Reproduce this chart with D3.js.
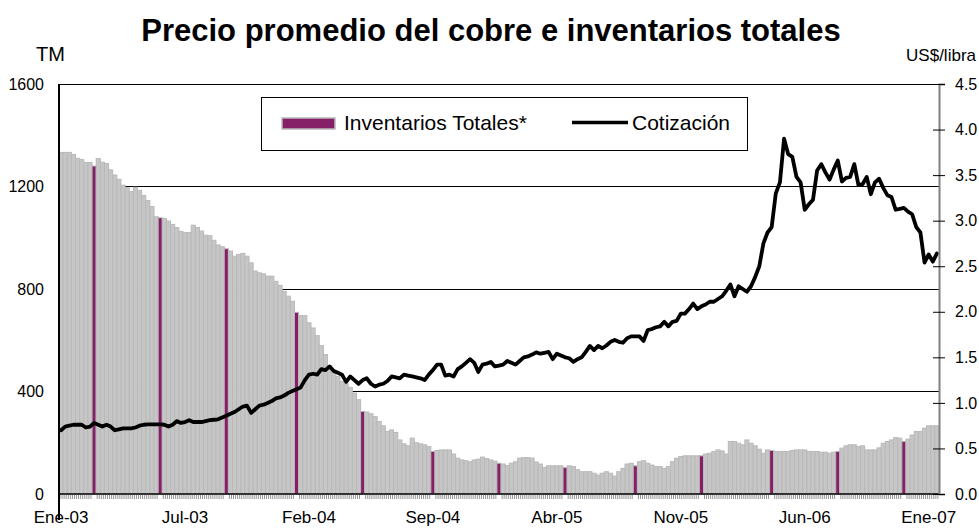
<!DOCTYPE html>
<html>
<head>
<meta charset="utf-8">
<script src="https://cdn.jsdelivr.net/npm/d3@7"></script>
<style>
  html, body { margin: 0; padding: 0; background: #fff; }
  svg { display: block; font-family: Arial, "Liberation Sans", sans-serif; }
</style>
</head>
<body>
<svg id="chart" width="979" height="528"></svg>
<script>
// ---- DATA ----
const title = "Precio promedio del cobre e inventarios totales";
const leftUnit = "TM";
const rightUnit = "US$/libra";
const seriesNames = ["Inventarios Totales*", "Cotización"];

// Weekly inventories (TM), Ene-03 .. Ene-07
const inventarios = [
  1333,1333,1333,1325,1310,1305,1294,1294,1280,1309,
  1295,1290,1265,1245,1228,1205,1195,1180,1197,1185,
  1165,1145,1122,1082,1078,1075,1065,1052,1040,1025,
  1020,1020,1049,1040,1026,1010,1008,990,972,965,
  957,948,928,935,939,928,902,870,863,859,
  850,850,830,814,791,772,752,709,696,696,
  668,648,618,579,544,500,472,459,439,430,
  416,394,368,322,320,313,302,283,266,244,
  250,240,211,196,188,218,200,196,192,185,
  166,170,172,172,172,156,140,133,130,126,
  133,136,144,138,133,128,120,117,111,120,
  126,140,142,142,140,125,117,104,110,110,
  110,110,103,110,107,95,87,87,87,81,
  74,81,87,81,70,87,100,117,120,110,
  126,130,120,113,107,107,100,107,126,140,
  146,149,149,149,149,149,156,159,166,172,
  168,156,205,205,198,192,211,198,188,175,
  159,172,170,166,166,166,166,170,172,172,
  172,166,166,166,163,163,159,163,166,179,
  188,192,192,185,188,172,172,172,180,198,
  205,211,220,218,205,214,230,244,244,257,
  266,266,266
];

// Weekly copper price (US$/libra)
const cotizacion = [
  0.70,0.74,0.75,0.76,0.76,0.76,0.73,0.74,0.78,0.76,
  0.74,0.76,0.74,0.70,0.71,0.72,0.72,0.72,0.73,0.75,
  0.76,0.765,0.765,0.765,0.765,0.76,0.74,0.76,0.80,0.78,
  0.79,0.81,0.79,0.79,0.79,0.80,0.81,0.815,0.82,0.84,
  0.86,0.88,0.90,0.93,0.96,0.97,0.89,0.93,0.97,0.98,
  1.00,1.02,1.05,1.06,1.08,1.11,1.13,1.15,1.17,1.25,
  1.31,1.32,1.31,1.37,1.36,1.40,1.35,1.33,1.31,1.23,
  1.29,1.25,1.21,1.25,1.27,1.21,1.18,1.20,1.21,1.24,
  1.29,1.28,1.27,1.31,1.30,1.29,1.28,1.27,1.25,1.31,
  1.36,1.42,1.42,1.30,1.31,1.29,1.37,1.40,1.44,1.48,
  1.44,1.34,1.42,1.43,1.45,1.40,1.41,1.42,1.46,1.44,
  1.42,1.46,1.50,1.51,1.53,1.555,1.54,1.55,1.56,1.48,
  1.54,1.52,1.50,1.49,1.45,1.48,1.50,1.56,1.625,1.58,
  1.625,1.60,1.63,1.67,1.69,1.67,1.66,1.71,1.73,1.73,
  1.73,1.68,1.80,1.81,1.83,1.84,1.89,1.84,1.89,1.90,
  1.98,1.98,2.03,2.09,2.03,2.06,2.08,2.11,2.11,2.14,
  2.17,2.23,2.30,2.17,2.28,2.25,2.22,2.28,2.38,2.50,
  2.75,2.87,2.93,3.30,3.42,3.90,3.73,3.70,3.48,3.42,
  3.12,3.18,3.23,3.55,3.62,3.53,3.45,3.56,3.66,3.43,
  3.47,3.48,3.62,3.39,3.40,3.48,3.29,3.42,3.46,3.36,
  3.28,3.26,3.12,3.13,3.14,3.10,3.07,2.93,2.87,2.54,
  2.63,2.55,2.64
];

// Bars that render in the series colour (others appear grey)
const highlighted = [8, 24, 40, 57, 73, 90, 106, 122, 139, 155, 172, 188, 204];

// X tick labels and their week index
const xTickIndex = [0, 30, 60, 90, 120, 150, 180, 210];
const xTickLabels = ["Ene-03", "Jul-03", "Feb-04", "Sep-04", "Abr-05", "Nov-05", "Jun-06", "Ene-07"];

const leftTicks = [0, 400, 800, 1200, 1600];
const rightTicks = [0, 0.5, 1.0, 1.5, 2.0, 2.5, 3.0, 3.5, 4.0, 4.5];

// ---- LAYOUT ----
const svg = d3.select("#chart");
const L = 59, R = 939, T = 84, B = 494;
const weeks = d3.range(inventarios.length);
const hiSet = new Set(highlighted);
const purple = "#861f68";
const barGrey = "#c6c6c6";
const FONT = "Arial, 'Liberation Sans', sans-serif";

const x = d3.scaleBand().domain(weeks).range([L, R]).padding(0);
const yL = d3.scaleLinear().domain([0, 1600]).range([B, T]);
const yR = d3.scaleLinear().domain([0, 4.5]).range([B, T]);

// Title & units
svg.append("text").attr("x", 491).attr("y", 41).attr("text-anchor", "middle")
  .attr("font-size", 31).attr("font-weight", "bold").text(title);
svg.append("text").attr("x", 36).attr("y", 61).attr("font-size", 20).text(leftUnit);
svg.append("text").attr("x", 976).attr("y", 61).attr("text-anchor", "end").attr("font-size", 17).text(rightUnit);

// Gridlines (behind bars)
svg.append("g").selectAll("line").data(leftTicks.filter(d => d > 0)).join("line")
  .attr("x1", L).attr("x2", R).attr("y1", d => yL(d)).attr("y2", d => yL(d))
  .attr("stroke", "#000").attr("stroke-width", 1).attr("shape-rendering", "crispEdges");

// Bars
svg.append("g").selectAll("rect").data(weeks).join("rect")
  .attr("x", i => x(i))
  .attr("width", x.bandwidth())
  .attr("y", i => yL(inventarios[i]))
  .attr("height", i => B - yL(inventarios[i]))
  .attr("fill", i => hiSet.has(i) ? purple : barGrey)
  .attr("stroke", "#b9b9b9")
  .attr("stroke-width", 1);

// Price line
const line = d3.line().x((d, i) => x(i) + x.bandwidth() / 2).y(d => yR(d));
svg.append("path").datum(cotizacion).attr("d", line)
  .attr("fill", "none").attr("stroke", "#000").attr("stroke-width", 3.8)
  .attr("stroke-linejoin", "round").attr("stroke-linecap", "round");

// X axis baseline and minor ticks
svg.append("line").attr("x1", L).attr("x2", R).attr("y1", B).attr("y2", B)
  .attr("stroke", "#000").attr("stroke-width", 1.5);
const minor = [];
weeks.forEach(i => {
  if (hiSet.has(i)) return;
  minor.push(x(i) + 1);
  minor.push(x(i) + x.bandwidth() / 2 + 1);
});
svg.append("g").selectAll("line").data(minor).join("line")
  .attr("x1", d => d).attr("x2", d => d).attr("y1", B + 1).attr("y2", B + 5)
  .attr("stroke", "#777").attr("stroke-width", 0.8);

const xAxis = d3.axisBottom(x).tickValues(xTickIndex)
  .tickFormat((d, k) => xTickLabels[k]).tickSize(0).tickPadding(17);
const gx = svg.append("g").attr("transform", `translate(0,${B})`).call(xAxis);
gx.select(".domain").remove();
gx.selectAll("text").attr("font-size", 17).attr("font-family", FONT).attr("fill", "#000");

// Left axis
svg.append("line").attr("x1", L).attr("x2", L).attr("y1", T).attr("y2", 520)
  .attr("stroke", "#000").attr("stroke-width", 2);
const yAxisL = d3.axisLeft(yL).tickValues(leftTicks).tickFormat(d3.format("d")).tickSize(0).tickPadding(15);
const gl = svg.append("g").attr("transform", `translate(${L},0)`).call(yAxisL);
gl.select(".domain").remove();
gl.selectAll("text").attr("font-size", 16).attr("font-family", FONT).attr("fill", "#000");

// Right axis
const yAxisR = d3.axisRight(yR).tickValues(rightTicks).tickFormat(d3.format(".1f")).tickSize(6).tickPadding(10);
const gr = svg.append("g").attr("transform", `translate(${R},0)`).call(yAxisR);
gr.select(".domain").attr("stroke", "#808080").attr("stroke-width", 2);
gr.selectAll(".tick line").attr("x1", -6).attr("x2", 6).attr("stroke", "#000");
gr.selectAll("text").attr("font-size", 16).attr("font-family", FONT).attr("fill", "#000");

// Legend
const lg = svg.append("g");
lg.append("rect").attr("x", 261.5).attr("y", 97.5).attr("width", 486).attr("height", 53)
  .attr("fill", "#fff").attr("stroke", "#000").attr("stroke-width", 1);
lg.append("rect").attr("x", 282).attr("y", 118).attr("width", 53).attr("height", 11)
  .attr("fill", purple).attr("stroke", "#b9b9b9").attr("stroke-width", 1.5);
lg.append("text").attr("x", 344).attr("y", 130).attr("font-size", 21).text(seriesNames[0]);
lg.append("line").attr("x1", 572).attr("x2", 628).attr("y1", 122.5).attr("y2", 122.5)
  .attr("stroke", "#000").attr("stroke-width", 3.6);
lg.append("text").attr("x", 632).attr("y", 130).attr("font-size", 21).text(seriesNames[1]);
</script>
</body>
</html>
